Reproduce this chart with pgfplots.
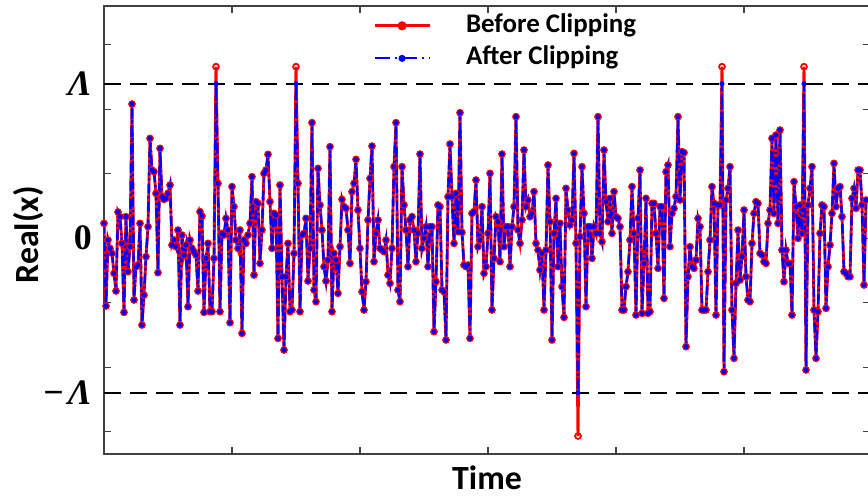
\documentclass[border=0pt]{standalone}
\usepackage{fontspec}
\setmainfont{Carlito}
\newfontfamily\serif{Liberation Serif}
\usepackage{pgfplots}
\pgfplotsset{compat=1.18}
\usepackage{pgfplotstable}

% b = before clipping, a = after clipping (read in picture units; converted by y expr)
\pgfplotstableread[row sep=\\]{
b a\\
670 670\\ 918 918\\ 720 720\\ 745 745\\ 760 760\\ 820 820\\ 873 873\\ 636 636\\ 650 650\\ 730 730\\
937 937\\ 650 650\\ 815 815\\ 740 740\\ 312 312\\ 900 900\\ 800 800\\ 795 795\\ 670 670\\ 975 975\\
885 885\\ 770 770\\ 680 680\\ 415 415\\ 510 510\\ 515 515\\ 580 580\\ 818 818\\ 445 445\\ 590 590\\
598 598\\ 595 595\\ 580 580\\ 555 555\\ 735 735\\ 720 720\\ 740 740\\ 690 690\\ 975 975\\ 705 705\\
765 765\\ 735 735\\ 920 920\\ 720 720\\ 745 745\\ 755 755\\ 765 765\\ 873 873\\ 635 635\\ 648 648\\
937 937\\ 775 775\\ 730 730\\ 935 935\\ 935 935\\ 775 775\\ 200 251\\
550 550\\ 935 935\\ 700 700\\ 705 705\\ 655 655\\ 690 690\\ 968 968\\ 560 560\\ 620 620\\ 720 720\\
745 745\\ 690 690\\ 1000 1000\\ 720 720\\ 730 730\\ 705 705\\ 670 670\\ 530 530\\ 825 825\\ 605 605\\
610 610\\ 790 790\\ 690 690\\ 520 520\\ 510 510\\ 463 463\\ 605 605\\ 745 745\\ 640 640\\ 645 645\\
1015 1015\\ 555 555\\ 830 830\\ 1050 1050\\ 830 830\\ 730 730\\ 935 935\\ 930 930\\ 760 760\\ 200 251\\
550 550\\ 935 935\\ 705 705\\ 700 700\\ 655 655\\ 843 843\\ 745 745\\ 368 368\\ 870 870\\ 905 905\\
505 505\\ 615 615\\ 690 690\\ 800 800\\ 843 843\\ 780 780\\ 440 440\\ 935 935\\ 760 760\\ 780 780\\
880 880\\ 740 740\\ 598 598\\ 620 620\\ 625 625\\ 690 690\\ 790 790\\ 575 575\\ 550 550\\ 478 478\\
630 630\\ 745 745\\ 875 875\\ 930 930\\ 845 845\\ 660 660\\ 535 535\\ 438 438\\ 785 785\\ 700 700\\
660 660\\ 745 745\\ 750 750\\ 755 755\\ 720 720\\ 825 825\\ 850 850\\ 745 745\\ 500 500\\ 368 368\\
870 870\\ 905 905\\ 500 500\\ 615 615\\ 690 690\\ 800 800\\ 660 660\\ 650 650\\ 690 690\\ 785 785\\
700 700\\ 462 462\\ 745 745\\ 715 715\\ 680 680\\ 800 800\\ 680 680\\ 680 680\\ 995 995\\ 845 845\\
615 615\\ 620 620\\ 870 870\\ 875 875\\ 1020 1020\\ 590 590\\ 432 432\\ 590 590\\ 730 730\\ 580 580\\
695 695\\ 338 338\\ 697 697\\ 795 795\\ 800 800\\ 795 795\\ 1015 1015\\ 640 640\\ 635 635\\ 540 540\\
740 740\\ 720 720\\ 620 620\\ 820 820\\ 800 800\\ 700 700\\ 520 520\\ 930 930\\ 775 775\\ 650 650\\
665 665\\ 785 785\\ 462 462\\ 740 740\\ 680 680\\ 680 680\\ 800 800\\ 680 680\\ 620 620\\ 350 350\\
690 690\\ 730 730\\ 660 660\\ 450 450\\ 620 620\\ 600 600\\ 650 650\\ 640 640\\ 575 575\\ 730 730\\
750 750\\ 810 810\\ 760 760\\ 930 930\\ 750 750\\ 495 495\\ 665 665\\ 1020 1020\\ 700 700\\ 595 595\\
800 800\\ 670 670\\ 860 860\\ 952 952\\ 565 565\\ 630 630\\ 675 675\\ 660 660\\ 460 460\\ 730 730\\
1308 1178\\
710 710\\ 500 500\\ 640 640\\ 920 920\\ 680 680\\ 680 680\\ 775 775\\ 680 680\\ 700 700\\ 350 350\\
700 700\\ 725 725\\ 450 450\\ 605 605\\ 665 665\\ 595 595\\ 700 700\\ 575 575\\ 650 650\\ 655 655\\
680 680\\ 930 930\\ 930 930\\ 860 860\\ 815 815\\ 720 720\\ 560 560\\ 700 700\\ 945 945\\ 655 655\\
510 510\\ 940 940\\ 790 790\\ 595 595\\ 940 940\\ 935 935\\ 610 610\\ 610 610\\ 700 700\\ 805 805\\
620 620\\ 620 620\\ 895 895\\ 515 515\\ 495 495\\ 740 740\\ 640 640\\ 625 625\\ 590 590\\ 350 350\\
600 600\\ 455 455\\ 458 458\\ 1040 1040\\ 830 830\\ 740 740\\ 800 800\\ 805 805\\ 780 780\\ 655 655\\
680 680\\ 930 930\\ 930 930\\ 930 930\\ 815 815\\ 720 720\\ 560 560\\ 610 610\\ 945 945\\ 615 615\\
615 615\\ 200 251\\
1115 1115\\ 600 600\\ 565 565\\ 500 500\\ 930 930\\ 1075 1075\\ 850 850\\ 690 690\\ 840 840\\ 770 770\\
630 630\\ 830 830\\ 900 900\\ 905 905\\ 730 730\\ 640 640\\ 605 605\\ 610 610\\ 760 760\\ 765 765\\
785 785\\ 790 790\\ 670 670\\ 630 630\\ 415 415\\ 640 640\\ 405 405\\ 670 670\\ 390 390\\ 750 750\\
845 845\\ 750 750\\ 790 790\\ 790 790\\ 945 945\\ 545 545\\ 620 620\\ 715 715\\ 615 615\\ 700 700\\
200 251\\
1110 1110\\ 615 615\\ 565 565\\ 500 500\\ 930 930\\ 1075 1075\\ 935 935\\ 700 700\\ 615 615\\ 620 620\\
925 925\\ 800 800\\ 735 735\\ 640 640\\ 490 490\\ 620 620\\ 565 565\\ 560 560\\ 650 650\\ 815 815\\
820 820\\ 830 830\\ 830 830\\ 595 595\\ 565 565\\ 625 625\\ 510 510\\ 510 510\\ 615 615\\ 855 855\\
600 600\\
}\data

\definecolor{axgray}{RGB}{64,64,64}

\begin{document}
\begin{tikzpicture}
\begin{axis}[
  scale only axis,
  width=766bp, height=448bp,
  xmin=0, xmax=383, ymin=-3.346, ymax=3.6,
  xtick={64,128,192,256,320}, xticklabels={},
  ytick={-3,-2,-1,0,1,2,3}, yticklabels={},
  extra y ticks={-2.395,0,2.395},
  extra y tick labels={%
    \mbox{\serif\bfseries −\hspace{4bp}\itshape Λ},
    \mbox{\serif\bfseries 0},
    \mbox{\serif\bfseries\itshape Λ}},
  extra y tick style={major tick length=0pt,
    yticklabel style={font=\fontsize{36}{40}\selectfont, anchor=east, inner sep=0pt, xshift=-12bp}},
  tick align=inside, major tick length=7bp,
  axis line style={axgray, line width=1.3bp},
  every tick/.style={axgray, line width=1.1bp},
  xlabel={Time},
  xlabel style={font=\fontsize{34}{40}\selectfont\bfseries,
    at={(axis description cs:0.5,-0.052)}, anchor=center},
  ylabel={Real(x)},
  ylabel style={font=\fontsize{34}{40}\selectfont\bfseries,
    at={(axis description cs:-0.0992,0.489)}, anchor=center},
  legend image code/.code={\draw[mark repeat=2,mark phase=2,#1] plot coordinates {(0bp,0bp) (27.5bp,0bp) (55bp,0bp)};},
  legend style={draw=none, fill=none, font=\fontsize{27}{30}\selectfont\bfseries,
    at={(axis description cs:0.351,0.984)}, anchor=north west,
    inner sep=0pt, row sep=7.5bp, column sep=35bp,
    nodes={inner sep=0pt, text height=19bp, text depth=6bp}},
  legend cell align=left,
]
\addplot[black, line width=2bp, dash pattern=on 17bp off 9bp, forget plot] coordinates {(0,2.395) (383,2.395)};
\addplot[black, line width=2bp, dash pattern=on 17bp off 9bp, forget plot] coordinates {(0,-2.395) (383,-2.395)};

\addplot[red, line width=2.9bp, mark=o, mark size=2.9bp,
  mark options={solid, fill=white, line width=1.8bp}, forget plot]
  table[x expr=\coordindex, y expr=(714.5-\thisrow{b})/193.5] {\data};
\addplot[blue, line width=2.4bp, dash pattern=on 10bp off 3bp on 2bp off 3bp,
  mark=*, mark size=2.3bp, mark options={solid, blue, line width=0.4bp}, forget plot]
  table[x expr=\coordindex, y expr=(714.5-\thisrow{a})/193.5] {\data};

\addlegendimage{red, line width=3bp, mark=*, mark size=3bp, mark options={solid}}
\addlegendentry{Before Clipping}
\addlegendimage{blue, line width=2.2bp, dash pattern=on 15bp off 5bp on 2bp off 5bp, mark=*, mark size=2.4bp, mark options={solid}}
\addlegendentry{After Clipping}
\end{axis}
\pgfresetboundingbox
\path[use as bounding box] ([xshift=-104bp,yshift=-45bp]current axis.south west) rectangle ([xshift=764bp,yshift=6bp]current axis.north west);
\end{tikzpicture}
\end{document}
